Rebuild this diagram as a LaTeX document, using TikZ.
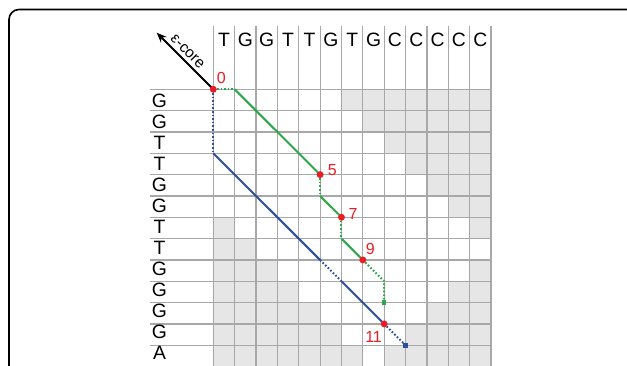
\documentclass[tikz,border=0pt]{standalone}
\usepackage{fontspec}
\setmainfont{Liberation Sans}
\usetikzlibrary{arrows.meta}

\definecolor{cellgray}{HTML}{E6E6E6}
\definecolor{gridgray}{HTML}{A8A8A8}
\definecolor{pathgreen}{HTML}{2EA84A}
\definecolor{pathblue}{HTML}{2E4E9E}
\definecolor{dotred}{HTML}{EC1C24}

\begin{document}
\begin{tikzpicture}[x=0.75pt,y=-0.75pt,
    letter/.style={font=\fontsize{14.5}{14.5}\selectfont, inner sep=0pt, anchor=base},
    num/.style={font=\fontsize{12}{12}\selectfont, text=dotred, inner sep=0pt, anchor=base west},
    hit/.style={circle, fill=dotred, inner sep=0pt, minimum size=5.2pt},
    endmark/.style={rectangle, inner sep=0pt, minimum size=3.4pt},
    gridline/.style={gridgray, line width=0.9pt},
    hitline/.style={line width=1.5pt},
    gapline/.style={line width=1.5pt, dash pattern=on 1.2pt off 1.5pt}]

    \useasboundingbox (0,0) rectangle (627,365);
    \clip (0,0) rectangle (627,365);

    % corner points of the cells
    \foreach \i in {0,...,13}
        \foreach \j in {0,...,13}
            \coordinate (g-\i-\j) at (213.3+\j*21.36, 89.3+\i*21.33);

    % pruned cells
    \foreach \r in {0,...,12}
        \foreach \c in {0,...,12} {
            \pgfmathtruncatemacro\shade{ifthenelse(abs(\c-\r)>5 || \c+\r>19,1,0)}
            \ifnum\shade=1
                \fill[cellgray] (g-\r-\c) rectangle ++(21.36,21.33);
            \fi
        }

    % grid
    \foreach \i in {0,...,13}
        \draw[gridline] (150,89.3+\i*21.33) -- (491,89.3+\i*21.33);
    \foreach \j in {0,...,13}
        \draw[gridline] (213.3+\j*21.36,26) -- (213.3+\j*21.36,370);

    % sequences
    \foreach \t [count=\k from 0] in {T,G,G,T,T,G,T,G,C,C,C,C,C}
        \node[letter] (h\k) at (224+\k*21.36,46.7) {\t};
    \foreach \t [count=\k from 0] in {G,G,T,T,G,G,T,T,G,G,G,G,A}
        \node[letter] (r\k) at (159.5,107.8+\k*20.98) {\t};

    % direction of the core
    \coordinate (tip) at (156.7,32.7);
    \draw[line width=1.5pt, -{Stealth[length=7.5pt,width=6pt]}] (g-0-0) -- (tip);
    \node[font=\fontsize{11.5}{11.5}\selectfont, rotate=-45, inner sep=0pt] (core) at (187.5,51.5) {ε-core};

    % blue path
    \draw[pathblue, gapline] (g-0-0) -- (g-3-0);
    \draw[pathblue, hitline] (g-3-0) -- (g-8-5);
    \draw[pathblue, gapline] (g-8-5) -- (g-9-6);
    \draw[pathblue, hitline] (g-9-6) -- (g-11-8);
    \draw[pathblue, gapline] (g-11-8) -- (g-12-9);
    \node[endmark, fill=pathblue] (bend) at (g-12-9) {};

    % green path
    \draw[pathgreen, gapline] (g-0-0) -- (g-0-1);
    \draw[pathgreen, hitline] (g-0-1) -- (g-4-5);
    \draw[pathgreen, gapline] (g-4-5) -- (g-5-5);
    \draw[pathgreen, hitline] (g-5-5) -- (g-6-6);
    \draw[pathgreen, gapline] (g-6-6) -- (g-7-6);
    \draw[pathgreen, hitline] (g-7-6) -- (g-8-7);
    \draw[pathgreen, gapline] (g-8-7) -- (g-9-8) -- (g-10-8);
    \node[endmark, fill=pathgreen] (gend) at (g-10-8) {};

    % seeds
    \node[hit] (s0) at (g-0-0) {};
    \node[hit] (s5) at (g-4-5) {};
    \node[hit] (s7) at (g-6-6) {};
    \node[hit] (s9) at (g-8-7) {};
    \node[hit] (s11) at (g-11-8) {};
    \node[num] (n0) at (216.7,83.3) {0};
    \node[num] (n5) at (327.7,175.7) {5};
    \node[num] (n7) at (348.3,219.3) {7};
    \node[num] (n9) at (365.7,254.5) {9};
    \node[num] (n11) at (365,342.7) {11};

    % frame
    \draw[line width=1.2pt, rounded corners=7.5pt] (9,9.5) rectangle (637,420);
\end{tikzpicture}
\end{document}
